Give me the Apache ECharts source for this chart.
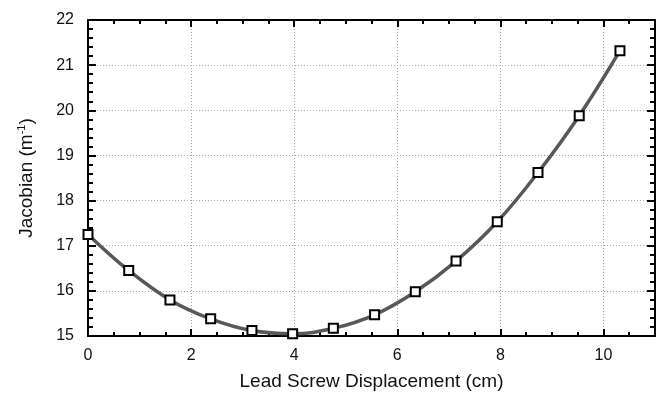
<!DOCTYPE html>
<html>
<head>
<meta charset="utf-8">
<script src="https://cdn.jsdelivr.net/npm/echarts@6/dist/echarts.min.js"></script>
<style>
  html, body { margin: 0; padding: 0; background: #fff; }
  #chart { width: 665px; height: 396px; }
</style>
</head>
<body>
<div id="chart"></div>
<script>
// Lead screw displacement (cm) at each measurement step
const displacement = [0, 0.79, 1.59, 2.38, 3.18, 3.97, 4.76, 5.56, 6.35, 7.14, 7.94, 8.73, 9.53, 10.32];
// Jacobian (1/m) measured at each displacement
const jacobian = [17.25, 16.45, 15.80, 15.38, 15.12, 15.05, 15.17, 15.47, 15.98, 16.66, 17.53, 18.62, 19.88, 21.32];

// Labelled ticks on each axis
const xTickLabels = [0, 2, 4, 6, 8, 10];
const yTickLabels = [15, 16, 17, 18, 19, 20, 21, 22];
const xMax = 11;

const points = displacement.map((x, i) => [x, jacobian[i]]);

const FONT = '"Liberation Sans", Arial, sans-serif';
const AXIS_COLOR = '#000';

const xStep = xTickLabels[1] - xTickLabels[0];
const yStep = yTickLabels[1] - yTickLabels[0];

function xAxisDef(pos, withLabels) {
  return {
    type: 'value',
    position: pos,
    min: xTickLabels[0],
    max: xMax,
    interval: xStep,
    axisLine: { show: true, onZero: false, lineStyle: { color: AXIS_COLOR, width: 2 } },
    axisTick: { show: true, inside: true, length: 7, lineStyle: { color: AXIS_COLOR, width: 2 } },
    minorTick: { show: true, splitNumber: 4, length: 4, lineStyle: { color: AXIS_COLOR, width: 2 } },
    axisLabel: {
      show: withLabels,
      showMaxLabel: false,
      margin: 12,
      color: '#111',
      fontSize: 16,
      fontFamily: FONT,
      formatter: v => (xTickLabels.includes(v) ? String(v) : '')
    },
    splitLine: {
      show: withLabels,
      lineStyle: { color: '#a8a8a8', width: 1, type: [1, 2] }
    },
    name: withLabels ? 'Lead Screw Displacement (cm)' : '',
    nameLocation: 'middle',
    nameGap: 36,
    nameTextStyle: { color: '#111', fontSize: 19, fontFamily: FONT }
  };
}

function yAxisDef(pos, withLabels) {
  return {
    type: 'value',
    position: pos,
    min: yTickLabels[0],
    max: yTickLabels[yTickLabels.length - 1],
    interval: yStep,
    axisLine: { show: true, onZero: false, lineStyle: { color: AXIS_COLOR, width: 2 } },
    axisTick: { show: true, inside: true, length: 8, lineStyle: { color: AXIS_COLOR, width: 2 } },
    minorTick: { show: true, splitNumber: 5, length: 5, lineStyle: { color: AXIS_COLOR, width: 2 } },
    axisLabel: {
      show: withLabels,
      margin: 14,
      color: '#111',
      fontSize: 16,
      fontFamily: FONT
    },
    splitLine: {
      show: withLabels,
      lineStyle: { color: '#a8a8a8', width: 1, type: [1, 2] }
    },
    name: withLabels ? 'Jacobian (m{sup|-1})' : '',
    nameLocation: 'middle',
    nameGap: 50,
    nameTextStyle: {
      color: '#111',
      fontSize: 19,
      fontFamily: FONT,
      lineHeight: 22,
      rich: {
        sup: { fontSize: 11, fontFamily: FONT, color: '#111', verticalAlign: 'top', lineHeight: 11 }
      }
    }
  };
}

const chart = echarts.init(document.getElementById('chart'), null, { renderer: 'canvas' });
chart.setOption({
  animation: false,
  backgroundColor: '#fff',
  grid: { left: 88, right: 10, top: 20, bottom: 55, containLabel: false },
  xAxis: [xAxisDef('bottom', true), xAxisDef('top', false)],
  yAxis: [yAxisDef('left', true), yAxisDef('right', false)],
  series: [
    {
      type: 'line',
      data: points,
      xAxisIndex: 0,
      yAxisIndex: 0,
      smooth: 0.4,
      lineStyle: { color: '#585858', width: 3.5 },
      symbol: 'emptyRect',
      symbolSize: 9,
      itemStyle: { color: '#000', borderColor: '#000', borderWidth: 1.5 },
      z: 3
    }
  ]
});
</script>
</body>
</html>
